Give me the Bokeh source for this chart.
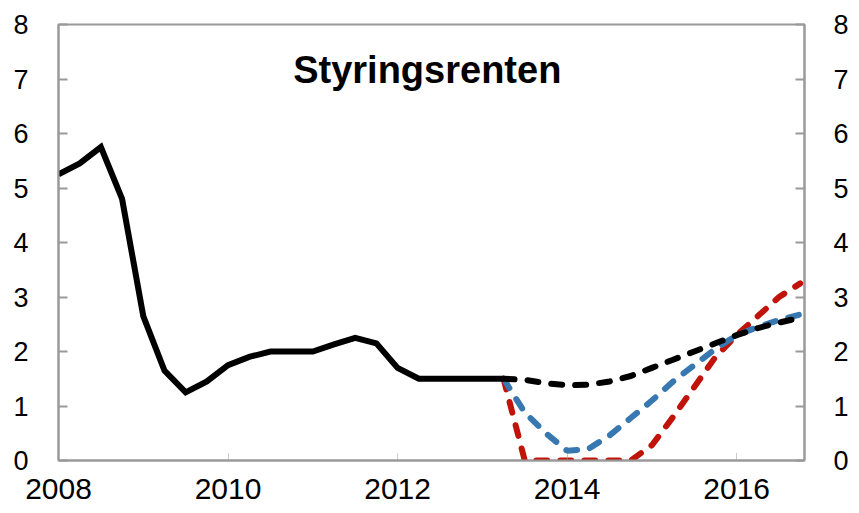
from bokeh.plotting import figure
from bokeh.models import Range1d, LinearAxis, FixedTicker, Label
from bokeh.embed import file_html
from bokeh.resources import INLINE

# Historic policy rate, quarterly 2008Q1 - 2013Q2
hist_x = [2008.0, 2008.25, 2008.5, 2008.75, 2009.0, 2009.25, 2009.5, 2009.75,
          2010.0, 2010.25, 2010.5, 2010.75, 2011.0, 2011.25, 2011.5, 2011.75,
          2012.0, 2012.25, 2012.5, 2012.75, 2013.0, 2013.25]
hist_y = [5.25, 5.45, 5.75, 4.8, 2.65, 1.65, 1.25, 1.45,
          1.75, 1.9, 2.0, 2.0, 2.0, 2.13, 2.25, 2.15,
          1.7, 1.5, 1.5, 1.5, 1.5, 1.5]

# Projections, quarterly 2013Q2 - 2016Q4
proj_x = [2013.25, 2013.5, 2013.75, 2014.0, 2014.25, 2014.5, 2014.75, 2015.0,
          2015.25, 2015.5, 2015.75, 2016.0, 2016.25, 2016.5, 2016.75]
black_proj = [1.5, 1.48, 1.42, 1.38, 1.39, 1.45, 1.55, 1.7,
              1.85, 2.0, 2.15, 2.3, 2.43, 2.53, 2.62]
blue_proj = [1.5, 0.88, 0.5, 0.18, 0.21, 0.46, 0.78, 1.1,
             1.45, 1.75, 2.05, 2.3, 2.45, 2.58, 2.68]
red_proj = [1.5, 0.0, 0.0, 0.0, 0.0, 0.0, 0.0, 0.28,
            0.8, 1.35, 1.9, 2.3, 2.65, 3.0, 3.25]

x_ticks = [2008, 2010, 2012, 2014, 2016]
y_ticks = [0, 1, 2, 3, 4, 5, 6, 7, 8]
title_text = "Styringsrenten"

FONT = "Liberation Sans"
GRAY = "#999999"

p = figure(width=855, height=513, x_range=Range1d(2008, 2016.8), y_range=Range1d(0, 8),
           output_backend="svg", toolbar_location=None,
           min_border_left=58, min_border_right=51, min_border_top=24, min_border_bottom=53)
p.grid.visible = False
p.outline_line_color = GRAY
p.outline_line_width = 2
p.background_fill_color = "white"
p.border_fill_color = "white"

def style_axis(ax, standoff, size):
    ax.axis_line_color = GRAY
    ax.axis_line_width = 2
    ax.major_tick_line_color = GRAY
    ax.major_tick_line_width = 2
    ax.major_tick_in = 9
    ax.major_tick_out = 0
    ax.minor_tick_line_color = None
    ax.major_label_text_font = FONT
    ax.major_label_text_font_size = size
    ax.major_label_text_color = "black"
    ax.major_label_standoff = standoff

p.yaxis.ticker = FixedTicker(ticks=y_ticks)
style_axis(p.yaxis[0], 30, "27px")

ry = LinearAxis(ticker=FixedTicker(ticks=y_ticks))
style_axis(ry, 29, "27px")
p.add_layout(ry, "right")

p.xaxis.ticker = FixedTicker(ticks=x_ticks)
style_axis(p.xaxis[0], 18, "30px")
p.xaxis.major_tick_in = 8
p.xaxis.major_tick_line_width = 1
p.xaxis.major_tick_line_dash = "1 1"

dash = "11 13"
p.line(proj_x, red_proj, line_color="#C0140A", line_width=6, line_dash=dash, line_cap="round")
p.line(proj_x, blue_proj, line_color="#3778B0", line_width=6, line_dash=dash, line_cap="round")
p.line(proj_x, black_proj, line_color="black", line_width=6, line_dash=dash, line_cap="round")
p.line(hist_x, hist_y, line_color="black", line_width=6, line_join="miter")

p.add_layout(Label(x=2012.35, y=7.16, text=title_text, text_font=FONT, text_font_size="38px",
                   text_font_style="bold", text_align="center", text_baseline="alphabetic",
                   text_color="black"))

open("out.html", "w").write(file_html(p, INLINE))
